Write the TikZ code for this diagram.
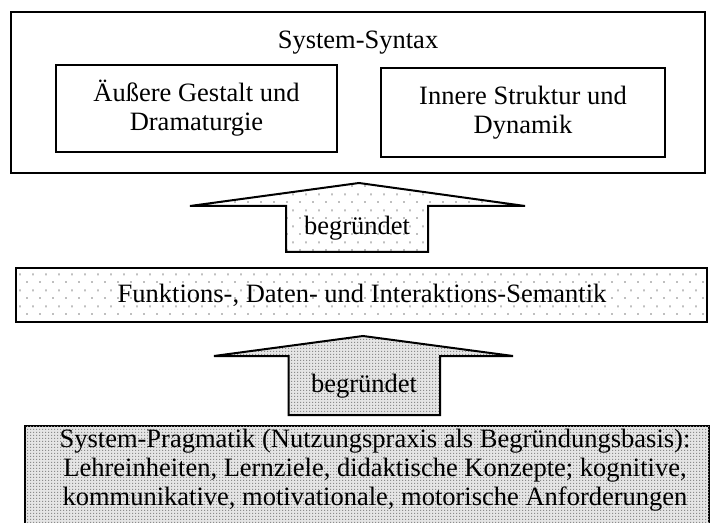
\documentclass[tikz,border=0pt]{standalone}
\usepackage{fontspec}
\setmainfont{Liberation Serif}
\usetikzlibrary{patterns}
\pgfdeclarepatternformonly{sparsedots}{\pgfqpoint{0pt}{0pt}}{\pgfqpoint{6.5pt}{8pt}}{\pgfqpoint{6.5pt}{8pt}}{%
  \pgfpathrectangle{\pgfqpoint{0pt}{0pt}}{\pgfqpoint{1pt}{1pt}}%
  \pgfpathrectangle{\pgfqpoint{3.25pt}{4pt}}{\pgfqpoint{1pt}{1pt}}%
  \pgfusepath{fill}}
\pgfdeclarepatternformonly{densedots}{\pgfqpoint{0pt}{0pt}}{\pgfqpoint{1.5pt}{1.5pt}}{\pgfqpoint{1.5pt}{1.5pt}}{%
  \pgfpathrectangle{\pgfqpoint{0pt}{0pt}}{\pgfqpoint{0.75pt}{0.75pt}}%
  \pgfusepath{fill}}
\tikzset{
  txt/.style={font=\fontsize{13.25}{14.5}\selectfont, align=center, inner sep=0pt},
  plainbox/.style={draw=black, line width=1pt, inner sep=0pt},
  lightfill/.style={pattern=sparsedots, pattern color=black!25},
  densefill/.style={fill=black!10, postaction={pattern=densedots, pattern color=black!45}},
  blockarrow/.style={draw=black, line width=1pt, line join=miter},
}
\begin{document}
\begin{tikzpicture}[x=0.5pt,y=-0.5pt]
\useasboundingbox (0,0) rectangle (711,523);
\clip (0,0) rectangle (711,523);
% System-Syntax
\node[plainbox, minimum width=347pt, minimum height=80.25pt] (syn) at (358,92.75) {};
\node[txt] (syntitle) at (358,43) {System-Syntax};
\node[plainbox, minimum width=140.5pt, minimum height=43.5pt, txt] (aes) at (196.5,108.5) {Äußere Gestalt und\\Dramaturgie};
\node[plainbox, minimum width=142pt, minimum height=44.5pt, txt] (inn) at (523,112.5) {Innere Struktur und\\Dynamik};
% upper arrow
\path[lightfill] (190,206) -- (359,183) -- (525,206) -- (428,206) -- (428,252) -- (286,252) -- (286,206) -- cycle;
\draw[blockarrow] (190,206) -- (359,183) -- (525,206) -- (428,206) -- (428,252) -- (286,252) -- (286,206) -- cycle;
\node[txt] (arr1) at (357,228) {begründet};
% semantics
\node[plainbox, line width=1.3pt, minimum width=345.5pt, minimum height=27.15pt, lightfill] (sem) at (361.5,295) {};
\node[txt] (semtxt) at (362,295) {Funktions-, Daten- und Interaktions-Semantik};
% lower arrow
\path[densefill] (214,356) -- (363,336) -- (513,356) -- (440,356) -- (440,415) -- (288.5,415) -- (288.5,356) -- cycle;
\draw[blockarrow] (214,356) -- (363,336) -- (513,356) -- (440,356) -- (440,415) -- (288.5,415) -- (288.5,356) -- cycle;
\node[txt] (arr2) at (364,386) {begründet};
% pragmatics
\node[plainbox, line width=1.3pt, minimum width=342pt, minimum height=60pt, densefill] (prag) at (367,486) {};
\node[txt] (pragtxt) at (375,470) {System-Pragmatik (Nutzungspraxis als Begründungsbasis):\\Lehreinheiten, Lernziele, didaktische Konzepte; kognitive,\\kommunikative, motivationale, motorische Anforderungen};
\end{tikzpicture}
\end{document}
